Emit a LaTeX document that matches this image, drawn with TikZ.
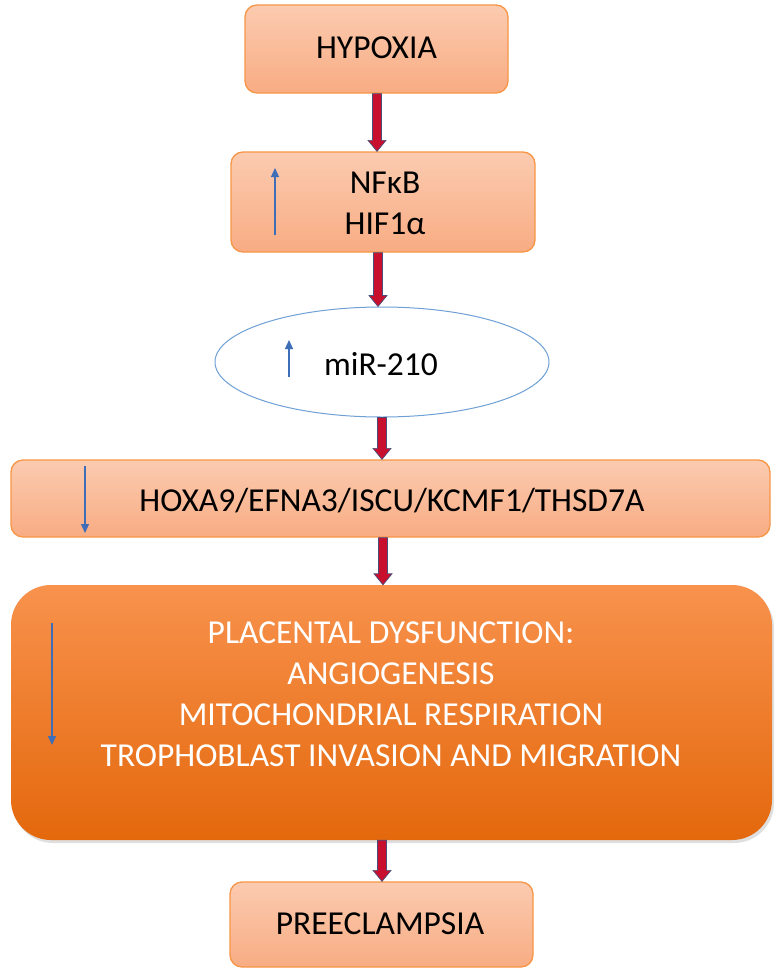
\documentclass[tikz,border=0pt]{standalone}
\usepackage{fontspec}
\setmainfont{Carlito}
\usetikzlibrary{calc,arrows.meta,shapes.geometric,shadows}
\definecolor{boxtop}{HTML}{FBCBB0}
\definecolor{boxbot}{HTML}{F8AC83}
\definecolor{boxedge}{HTML}{F79646}
\definecolor{bigtop}{HTML}{F8924D}
\definecolor{bigbot}{HTML}{E4680C}
\definecolor{arrred}{HTML}{C8102E}
\definecolor{arredge}{HTML}{4A4E7A}
\definecolor{bluearr}{HTML}{3F6EB8}
\definecolor{elledge}{HTML}{6FA0D6}
\newcommand\redarrow[3]{%
  \path[fill=arrred, draw=arredge, line width=0.7pt, line join=miter]
    let \p1=(#1.south), \p2=(#2.north), \p3=(#3,0) in
    (\x3-4.5pt,\y1) -- (\x3+4.5pt,\y1) -- (\x3+4.5pt,\y2+11pt) -- (\x3+9pt,\y2+11pt)
    -- (\x3,\y2) -- (\x3-9pt,\y2+11pt) -- (\x3-4.5pt,\y2+11pt) -- cycle;}
\begin{document}
\begin{tikzpicture}[x=1pt,y=-1pt,
  lightbox/.style={rectangle, rounded corners=12pt, draw=boxedge, line width=1.3pt,
    top color=boxtop, bottom color=boxbot, inner sep=0pt},
  bigbox/.style={rectangle, rounded corners=40pt, draw=none,
    top color=bigtop, bottom color=bigbot, inner sep=0pt,
    drop shadow={opacity=0.25, shadow xshift=2pt, shadow yshift=-3pt}},
  ell/.style={ellipse, draw=elledge, line width=1pt, fill=white, inner sep=0pt},
  txt/.style={font=\fontsize{33.5}{41}\selectfont, align=center, text=black, inner sep=0pt},
  wtxt/.style={txt, text=white},
  bluearrow/.style={draw=bluearr, line width=1.2pt, -{Triangle[length=9pt,width=8pt]}}
]
\useasboundingbox (0,0) rectangle (780,972);
\fill[white] (0,0) rectangle (780,972);

\node[lightbox, minimum width=263pt, minimum height=88pt] (hyp) at (376.5,49) {};
\node[txt] (hypt) at (376.5,48) {HYPOXIA};

\node[lightbox, minimum width=304pt, minimum height=100pt] (nfk) at (383,202) {};
\node[txt] (nfkt) at (385,203) {NFκB\\HIF1α};
\coordinate (u1a) at (275,235);
\coordinate (u1b) at (275,168);
\draw[bluearrow] (u1a) -- (u1b);

\node[ell, minimum width=334pt, minimum height=110pt] (mir) at (382,362) {};
\node[txt] (mirt) at (381,364) {miR-210};
\coordinate (u2a) at (289,377);
\coordinate (u2b) at (289,340);
\draw[bluearrow] (u2a) -- (u2b);

\node[lightbox, minimum width=759pt, minimum height=77pt] (hox) at (390.5,498.5) {};
\node[txt] (hoxt) at (392,501) {HOXA9/EFNA3/ISCU/KCMF1/THSD7A};
\coordinate (d1a) at (85,466);
\coordinate (d1b) at (85,533);
\draw[bluearrow] (d1a) -- (d1b);

\node[bigbox, minimum width=761pt, minimum height=255pt] (big) at (391.5,712.5) {};
\node[wtxt] (bigt) at (391,694) {PLACENTAL DYSFUNCTION:\\ANGIOGENESIS\\MITOCHONDRIAL RESPIRATION\\TROPHOBLAST INVASION AND MIGRATION};
\coordinate (d2a) at (52,623);
\coordinate (d2b) at (52,745);
\draw[bluearrow] (d2a) -- (d2b);

\node[lightbox, minimum width=303pt, minimum height=85pt] (pre) at (381.5,924.5) {};
\node[txt] (pret) at (380,924) {PREECLAMPSIA};

\redarrow{hyp}{nfk}{377}
\redarrow{nfk}{mir}{378}
\redarrow{mir}{hox}{382}
\redarrow{hox}{big}{383}
\redarrow{big}{pre}{382}
\end{tikzpicture}
\end{document}
